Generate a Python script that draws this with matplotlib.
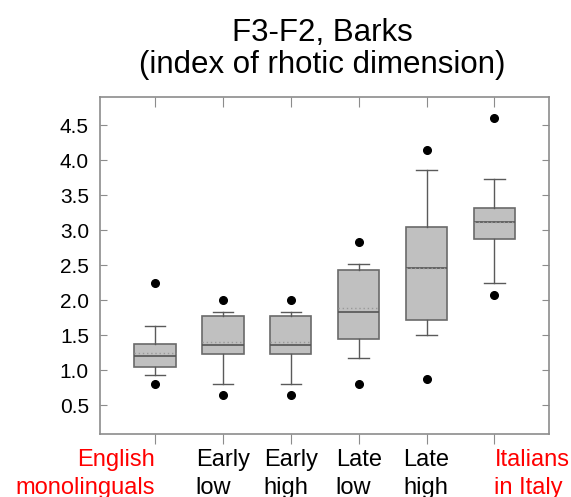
import matplotlib
matplotlib.use("Agg")
import matplotlib.pyplot as plt

plt.rcParams['font.family'] = ['Liberation Sans', 'DejaVu Sans']

# group labels and colours
groups = ["English\nmonolinguals", "Early\nlow", "Early\nhigh", "Late\nlow", "Late\nhigh", "Italians\nin Italy"]
label_colors = ["red", "black", "black", "black", "black", "red"]

# box statistics
q1 = [1.05, 1.23, 1.23, 1.44, 1.72, 2.88]
med = [1.21, 1.36, 1.36, 1.83, 2.46, 3.11]
q3 = [1.37, 1.77, 1.77, 2.43, 3.05, 3.31]
means = [1.25, 1.40, 1.40, 1.89, 2.46, 3.12]
whis_lo = [0.93, 0.80, 0.80, 1.18, 1.51, 2.25]
whis_hi = [1.63, 1.83, 1.83, 2.51, 3.86, 3.73]
fliers = [[0.81, 2.25], [0.65, 2.00], [0.65, 2.00], [0.81, 2.83], [0.87, 4.14], [2.08, 4.60]]

yticks = [0.5, 1.0, 1.5, 2.0, 2.5, 3.0, 3.5, 4.0, 4.5]

stats = []
for i in range(len(groups)):
    stats.append(dict(q1=q1[i], med=med[i], q3=q3[i], mean=means[i],
                      whislo=whis_lo[i], whishi=whis_hi[i], fliers=fliers[i]))

fig = plt.figure(figsize=(5.71, 4.97), dpi=100)
ax = fig.add_axes([100 / 571, 1 - 434 / 497, 448.7 / 571, (434 - 96.7) / 497])

edge = "#5a5a5a"
ax.bxp(stats, positions=range(1, 7), widths=0.61, capwidths=0.3,
       showmeans=True, meanline=True, patch_artist=True,
       boxprops=dict(facecolor="#c0c0c0", edgecolor="#6a6a6a", linewidth=1.2),
       medianprops=dict(color="#555555", linewidth=1.2),
       meanprops=dict(color="#999999", linestyle=(0, (1, 2)), linewidth=1),
       whiskerprops=dict(color=edge, linewidth=1),
       capprops=dict(color=edge, linewidth=1),
       flierprops=dict(marker="o", markerfacecolor="black", markeredgecolor="black", markersize=5.5))

ax.set_xlim(0.19, 6.80)
ax.set_ylim(0.09, 4.904)
ax.set_yticks(yticks)
ax.set_yticklabels([f"{v:.1f}" for v in yticks])
ax.set_xticks(range(1, 7))
ax.set_xticklabels(groups)

for s in ax.spines.values():
    s.set_color("#8c8c8c")
    s.set_linewidth(1.2)

ax.tick_params(axis="y", direction="in", length=5, color="#8c8c8c", labelsize=15, pad=8,
               right=True)
ax.tick_params(axis="x", direction="out", length=7.5, color="#8c8c8c", labelsize=17, pad=3)
ax.tick_params(axis="x", which="major", top=True)
for t in ax.xaxis.get_major_ticks():
    t.tick2line.set_marker(matplotlib.lines.TICKDOWN)

for lbl, c in zip(ax.get_xticklabels(), label_colors):
    lbl.set_color(c)
    lbl.set_linespacing(1.35)
    lbl.set_multialignment("left")
labels = ax.get_xticklabels()
labels[0].set_ha("right")
labels[0].set_multialignment("right")
labels[-1].set_ha("left")

fig.text(322 / 571, 1 - 18 / 497, "F3-F2, Barks\n(index of rhotic dimension)",
         ha="center", va="top", fontsize=22.5, linespacing=1.07)

fig.savefig("out.png", dpi=100)
